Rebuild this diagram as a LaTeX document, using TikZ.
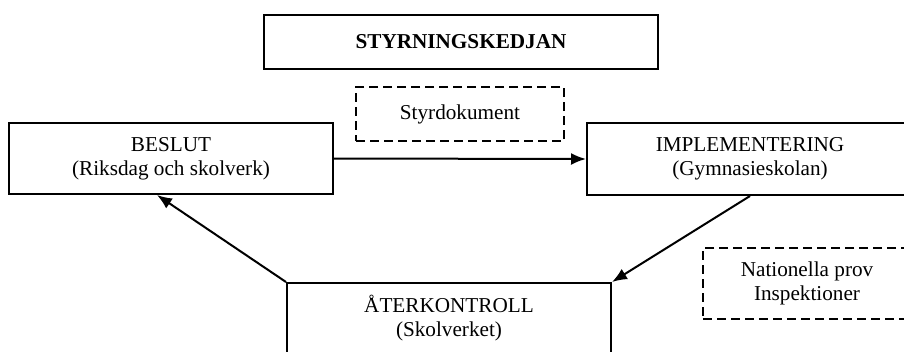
\documentclass[tikz,border=0pt]{standalone}
\usepackage{fontspec}
\setmainfont{Liberation Serif}
\usetikzlibrary{arrows.meta}

\begin{document}
\begin{tikzpicture}[
	  x=1pt, y=-1pt,
	  every node/.style={font=\fontsize{21.2}{24}\selectfont, align=center, inner sep=0pt},
	  blk/.style={draw, line width=2pt},
	  dblk/.style={draw, line width=2pt, dash pattern=on 9pt off 5pt},
	  pil/.style={line width=2pt, -{Latex[length=15pt,width=12pt]}},
	]
	\useasboundingbox (0,0) rectangle (904,351);

	\node [blk, minimum width=394pt, minimum height=54pt] (titel) at (461,42) {\textbf{STYRNINGSKEDJAN}};
	\node [dblk, minimum width=208pt, minimum height=54pt] (styr) at (460,114) {Styrdokument};
	\node [blk, minimum width=324pt, minimum height=71pt] (beslut) at (171,158.5) {BESLUT\\(Riksdag och skolverk)};
	\node [blk, minimum width=326pt, minimum height=72pt] (impl) at (750,159) {IMPLEMENTERING\\(Gymnasieskolan)};
	\node [blk, minimum width=324pt, minimum height=70pt] (ater) at (449,318) {ÅTERKONTROLL\\(Skolverket)};
	\node [dblk, minimum width=208pt, minimum height=71pt] (nat) at (807,283.5) {Nationella prov\\Inspektioner};

	\draw [pil] (beslut.east) -- (impl.west);
	\draw [pil] (impl.south) -- (ater.north east);
	\draw [pil] (ater.north west) -- ([xshift=-14pt]beslut.south);
\end{tikzpicture}
\end{document}
